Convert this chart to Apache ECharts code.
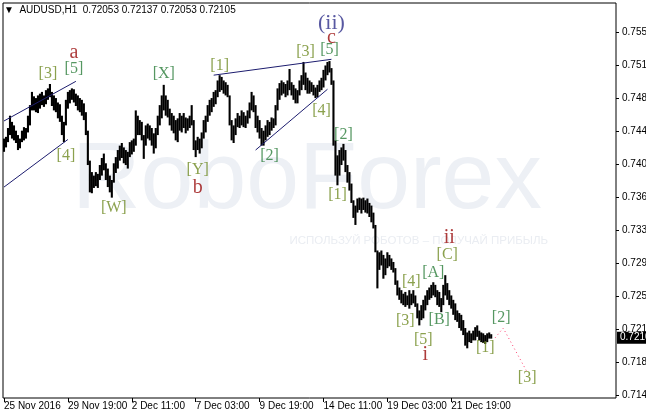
<!DOCTYPE html>
<html><head><meta charset="utf-8">
<script src="https://cdn.jsdelivr.net/npm/echarts@6/dist/echarts.min.js"></script>
<style>html,body{margin:0;padding:0;background:#fff;overflow:hidden}#c{width:646px;height:414px}</style>
</head><body><div id="c"></div>
<script>
// ---- data (H2 bars, lows / highs) ----
const lows = [0.7420,0.7425,0.7431,0.7439,0.7435,0.7433,0.7430,0.7422,0.7424,0.7431,
0.7433,0.7435,0.7442,0.7450,0.7467,0.7467,0.7465,0.7464,0.7469,0.7473,
0.7471,0.7474,0.7479,0.7482,0.7472,0.7467,0.7465,0.7458,0.7454,0.7439,
0.7431,0.7450,0.7469,0.7475,0.7479,0.7476,0.7472,0.7467,0.7465,0.7461,
0.7456,0.7439,0.7405,0.7374,0.7373,0.7379,0.7381,0.7379,0.7388,0.7393,
0.7399,0.7388,0.7380,0.7374,0.7368,0.7385,0.7396,0.7401,0.7410,0.7413,
0.7407,0.7405,0.7401,0.7414,0.7417,0.7420,0.7427,0.7439,0.7439,0.7433,
0.7412,0.7427,0.7435,0.7433,0.7427,0.7418,0.7424,0.7439,0.7450,0.7458,
0.7467,0.7461,0.7459,0.7450,0.7444,0.7441,0.7433,0.7431,0.7444,0.7442,
0.7447,0.7441,0.7444,0.7447,0.7450,0.7422,0.7414,0.7422,0.7418,0.7424,
0.7435,0.7442,0.7454,0.7461,0.7465,0.7471,0.7474,0.7482,0.7488,0.7490,
0.7486,0.7484,0.7482,0.7450,0.7433,0.7430,0.7439,0.7448,0.7447,0.7450,
0.7448,0.7447,0.7452,0.7458,0.7467,0.7465,0.7447,0.7442,0.7435,0.7427,
0.7427,0.7433,0.7437,0.7439,0.7444,0.7447,0.7450,0.7467,0.7479,0.7484,
0.7486,0.7482,0.7484,0.7490,0.7484,0.7479,0.7475,0.7475,0.7484,0.7490,
0.7496,0.7490,0.7486,0.7486,0.7488,0.7484,0.7481,0.7482,0.7488,0.7490,
0.7493,0.7501,0.7507,0.7510,0.7496,0.7427,0.7393,0.7382,0.7393,0.7405,
0.7410,0.7397,0.7385,0.7376,0.7362,0.7345,0.7337,0.7351,0.7354,0.7350,
0.7354,0.7351,0.7350,0.7346,0.7340,0.7333,0.7306,0.7265,0.7286,0.7291,
0.7276,0.7280,0.7288,0.7290,0.7286,0.7283,0.7269,0.7257,0.7252,0.7248,
0.7246,0.7244,0.7246,0.7242,0.7246,0.7248,0.7244,0.7231,0.7223,0.7229,
0.7231,0.7240,0.7246,0.7252,0.7254,0.7257,0.7255,0.7246,0.7244,0.7238,
0.7246,0.7257,0.7252,0.7246,0.7242,0.7235,0.7229,0.7227,0.7220,0.7217,
0.7212,0.7200,0.7197,0.7204,0.7203,0.7206,0.7206,0.7210,0.7206,0.7204,
0.7203,0.7202,0.7204,0.7208,0.7208];
const highs = [0.7435,0.7437,0.7447,0.7461,0.7454,0.7450,0.7444,0.7439,0.7435,0.7444,
0.7448,0.7447,0.7461,0.7473,0.7488,0.7483,0.7481,0.7484,0.7486,0.7488,
0.7484,0.7490,0.7492,0.7497,0.7488,0.7484,0.7481,0.7476,0.7474,0.7461,
0.7454,0.7479,0.7488,0.7490,0.7492,0.7491,0.7486,0.7484,0.7481,0.7479,
0.7475,0.7465,0.7444,0.7410,0.7397,0.7393,0.7397,0.7395,0.7405,0.7413,
0.7418,0.7407,0.7401,0.7393,0.7388,0.7407,0.7414,0.7422,0.7427,0.7430,
0.7425,0.7422,0.7420,0.7431,0.7433,0.7435,0.7467,0.7461,0.7456,0.7454,
0.7439,0.7450,0.7452,0.7450,0.7447,0.7441,0.7447,0.7461,0.7473,0.7484,
0.7496,0.7484,0.7479,0.7469,0.7464,0.7461,0.7456,0.7458,0.7464,0.7461,
0.7464,0.7459,0.7458,0.7461,0.7473,0.7456,0.7433,0.7437,0.7435,0.7442,
0.7456,0.7461,0.7473,0.7479,0.7481,0.7488,0.7490,0.7501,0.7507,0.7505,
0.7501,0.7499,0.7496,0.7484,0.7456,0.7450,0.7458,0.7464,0.7461,0.7467,
0.7465,0.7461,0.7467,0.7476,0.7488,0.7484,0.7473,0.7461,0.7456,0.7447,
0.7444,0.7450,0.7456,0.7454,0.7459,0.7458,0.7473,0.7492,0.7498,0.7501,
0.7499,0.7497,0.7501,0.7514,0.7499,0.7496,0.7492,0.7490,0.7501,0.7507,
0.7522,0.7510,0.7504,0.7501,0.7499,0.7496,0.7493,0.7496,0.7501,0.7504,
0.7513,0.7518,0.7522,0.7523,0.7515,0.7501,0.7433,0.7416,0.7422,0.7425,
0.7429,0.7422,0.7405,0.7397,0.7384,0.7365,0.7359,0.7367,0.7368,0.7367,
0.7368,0.7365,0.7367,0.7362,0.7359,0.7351,0.7337,0.7308,0.7306,0.7308,
0.7303,0.7299,0.7306,0.7303,0.7299,0.7295,0.7288,0.7274,0.7266,0.7263,
0.7259,0.7261,0.7257,0.7263,0.7259,0.7263,0.7257,0.7248,0.7240,0.7246,
0.7252,0.7257,0.7263,0.7266,0.7269,0.7272,0.7269,0.7263,0.7261,0.7254,
0.7269,0.7280,0.7271,0.7263,0.7257,0.7252,0.7248,0.7240,0.7237,0.7235,
0.7229,0.7220,0.7215,0.7217,0.7214,0.7217,0.7221,0.7223,0.7217,0.7215,
0.7214,0.7212,0.7214,0.7215,0.7213];
const totalSlots = 307;
const tickLabels = ['25 Nov 2016','29 Nov 19:00','2 Dec 11:00','7 Dec 03:00','9 Dec 19:00','14 Dec 11:00','19 Dec 03:00','21 Dec 19:00'];
const tickEvery = 32;
const yTicks = [0.7556,0.7518,0.7481,0.7443,0.7406,0.7368,0.7331,0.7294,0.7256,0.7219,0.7181,0.7144];
const yMin = 0.71406, yMax = 0.75889;
const symbolName = 'AUDUSD', timeframe = 'H1';
const lastBar = [0.72053,0.72137,0.72053,0.72105];
// trend lines [index, price]
const trendA = [[0,0.7455],[36,0.7500]];
const trendB = [[0,0.7380],[32,0.7434]];
const trendC = [[105,0.7507],[164,0.7525]];
const trendD = [[126,0.7422],[162,0.7491]];
const forecast = [[246,0.7209],[250,0.7220],[262,0.7170]];
// wave labels
const waveText  = ['[3]','[5]','a','[4]','[W]','[X]','[Y]','b','[1]','[2]','[3]','[4]','[5]','c','(ii)','[2]','[1]','[3]','[4]','[5]','i','[A]','[B]','[C]','ii','[1]','[2]','[3]'];
const waveIdx   = [22,35,35,31,55,80,97,97,108,133,151,159,163,164,164,170,167,201,204,210,211,215,218,222,223,241,249,262];
const wavePrice = [0.7508,0.7514,0.7533,0.7415,0.7356,0.7508,0.7400,0.7379,0.7518,0.7415,0.7533,0.7466,0.7536,0.7549,0.7566,0.7439,0.7371,0.7228,0.7272,0.7207,0.7190,0.7283,0.7229,0.7303,0.7322,0.7198,0.7232,0.7163];
const waveKind  = ['o','g','r','o','o','g','o','r','o','g','o','o','g','r','p','g','o','o','o','o','r','g','g','o','r','o','g','o'];

const cats = Array.from({length: totalSlots}, (_, i) => String(i));
const bars = lows.map((l, i) => [i, l, highs[i]]);
const kindStyle = {
  o: {color:'#6e8a22', fontSize:16, fontFamily:'Liberation Serif'},
  g: {color:'#2a7d3a', fontSize:16, fontFamily:'Liberation Serif'},
  r: {color:'#990a0a', fontSize:20, fontFamily:'Liberation Serif'},
  p: {color:'#2e2e8a', fontSize:22, fontFamily:'Liberation Serif'}
};
const waveData = waveText.map((t, k) => ({value:[waveIdx[k], wavePrice[k]], name:t,
  label:Object.assign({show:true, position:'inside', formatter:t}, kindStyle[waveKind[k]])}));
const fmtTick = v => v.toFixed(4);
const showTick = i => i % tickEvery === 0 && i / tickEvery < tickLabels.length;

const chart = echarts.init(document.getElementById('c'), null, {renderer:'canvas'});
const trendStyle = {color:'#1c1c6e', width:1};
chart.setOption({
  animation:false,
  title:{text:'\u25BC  ' + symbolName + ',' + timeframe + '  ' + lastBar.map(v=>v.toFixed(5)).join(' '),
    left:4, top:5, padding:0, textStyle:{fontSize:10, fontWeight:'normal', fontFamily:'Liberation Sans', color:'#000'}},
  graphic:{elements:[
    {type:'text', left:72, top:134, z:-100, silent:true, style:{text:'RoboForex', fontSize:95, fontFamily:'Liberation Sans', fill:'#edf0f5'}},
    {type:'text', right:98, top:235, z:-100, silent:true, style:{text:'ИСПОЛЬЗУЙ РОБОТОВ – ПОЛУЧАЙ ПРИБЫЛЬ', fontSize:11.5, fontFamily:'Liberation Sans', fill:'#eaedf2'}}
  ]},
  grid:{left:3, top:3, right:30, bottom:16, show:true, borderColor:'#000', borderWidth:1, backgroundColor:'transparent',
    containLabel:false, outerBoundsMode:'none'},
  xAxis:{type:'category', data:cats, boundaryGap:true,
    axisLine:{show:false},
    axisTick:{show:true, alignWithLabel:true, interval:(i)=>showTick(i), length:4, lineStyle:{color:'#000'}},
    axisLabel:{interval:(i)=>showTick(i), formatter:(v,i)=>tickLabels[i/tickEvery]||'', align:'left', margin:3,
      color:'#000', fontSize:10, fontFamily:'Liberation Sans', hideOverlap:false},
    splitLine:{show:false}},
  yAxis:{type:'value', position:'right', min:yMin, max:yMax, scale:true,
    axisLine:{show:false}, splitLine:{show:false},
    axisTick:{show:true, length:3, lineStyle:{color:'#000'}, customValues:yTicks},
    axisLabel:{customValues:yTicks, formatter:fmtTick, margin:6, color:'#000', fontSize:10, fontFamily:'Liberation Sans'}},
  series:[
    {type:'custom', name:'price', data:bars, encode:{x:0, y:[1,2]}, clip:true, z:2,
      renderItem:(params, api) => {
        const i = api.value(0);
        const pl = api.coord([i, api.value(1)]);
        const ph = api.coord([i, api.value(2)]);
        return {type:'rect', shape:{x:pl[0]-1.05, y:ph[1], width:2.1, height:Math.max(1, pl[1]-ph[1])}, style:{fill:'#000'}};
      }},
    {type:'line', data:trendA, symbol:'none', lineStyle:trendStyle, z:3},
    {type:'line', data:trendB, symbol:'none', lineStyle:trendStyle, z:3},
    {type:'line', data:trendC, symbol:'none', lineStyle:trendStyle, z:3},
    {type:'line', data:trendD, symbol:'none', lineStyle:trendStyle, z:3},
    {type:'line', data:forecast, symbol:'none', lineStyle:{color:'#ff3d6e', width:1, type:[1,3]}, z:3,
      markLine:{silent:true, symbol:'none', data:[{yAxis:lastBar[3]}], lineStyle:{color:'rgba(0,0,0,0)', width:0},
        label:{show:true, position:'end', distance:1, verticalAlign:'middle', align:'left', offset:[0,-8],
          formatter:()=> (Math.floor(lastBar[3]*1e4)/1e4).toFixed(4),
          backgroundColor:'#000', color:'#fff', padding:[1,3,1,3], fontSize:10, fontFamily:'Liberation Sans'}}},
    {type:'scatter', data:waveData, symbolSize:0, z:5, silent:true}
  ]
});
</script></body></html>
